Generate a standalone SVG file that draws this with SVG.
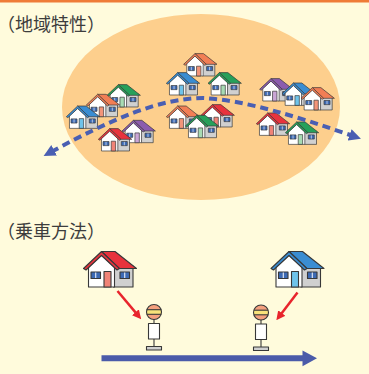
<svg xmlns="http://www.w3.org/2000/svg" width="369" height="374" viewBox="0 0 369 374">
<style>
.bg{fill:#fffbdc}
.topline{fill:#ef7b37}
.area{fill:#fdcf8d}
.title{font-family:"Noto Sans CJK JP","Noto Sans",sans-serif;font-size:18px;fill:#3d3d3d}
.half{font-feature-settings:"halt" 1}
.ol{stroke:#383838;stroke-width:1.1;stroke-linejoin:round}
.roof{fill:var(--roof)}
.door{fill:var(--door)}
.wall{fill:#ffffff}
.side{fill:#d0d0d0}
.win{fill:#3d6ab4}
.mull{stroke:#ffffff;stroke-width:1}
.red{--roof:#e8333d;--door:#f08377}
.blue{--roof:#3a8dd2;--door:#6fc3ea}
.green{--roof:#26a05a;--door:#a7dbb3}
.orange{--roof:#f27e55;--door:#f39479}
.purple{--roof:#8c5cae;--door:#cba6d6}
.dash{fill:none;stroke:#4a5fb2;stroke-width:4;stroke-dasharray:8 5}
.walk{fill:none;stroke:#e8242c;stroke-width:2.5}
.route{fill:#4b5ba9}
.stop-sign{fill:#f4a07e}
.stop-band{fill:#f8e27a}
.stop-board{fill:#ffffff}
.stop-base{fill:#cfcfcf}
</style>
<defs>
  <!-- house icon, 54 x 37 local units; roof and door colours come from custom properties -->
  <g id="house">
    <rect class="side ol" x="30.5" y="15" width="19.5" height="21"/>
    <polygon class="roof ol" points="18.5,0.5 32,0.5 53.5,17.5 36,17.5"/>
    <polygon class="wall ol" points="5.5,36 5.5,16 18.5,4 31.5,16 31.5,36"/>
    <polygon class="roof ol" points="0.5,17.5 18.5,0.5 36.5,17.5 34,19 18.5,4.5 3,19"/>
    <rect class="win ol" x="8" y="21" width="9.5" height="6.5"/>
    <line class="mull" x1="12.75" y1="21.5" x2="12.75" y2="27"/>
    <rect class="win ol" x="37" y="21" width="9.5" height="6.5"/>
    <line class="mull" x1="41.75" y1="21.5" x2="41.75" y2="27"/>
    <rect class="door ol" x="21" y="20.5" width="7" height="15.5"/>
  </g>
  <!-- bus stop pole, centred on x = 0, sign centre at y = 0 -->
  <clipPath id="signClip"><circle cx="0" cy="0" r="7.5"/></clipPath>
  <g id="busstop">
    <line class="ol" x1="0" y1="7" x2="0" y2="11.5"/>
    <line class="ol" x1="0" y1="27" x2="0" y2="34.5"/>
    <circle class="stop-sign" cx="0" cy="0" r="7.5"/>
    <rect class="stop-band" x="-8" y="-2.3" width="16" height="4.6" clip-path="url(#signClip)"/>
    <line class="ol" x1="-7.2" y1="-2.3" x2="7.2" y2="-2.3" stroke-width="0.8"/>
    <line class="ol" x1="-7.2" y1="2.3" x2="7.2" y2="2.3" stroke-width="0.8"/>
    <circle class="ol" cx="0" cy="0" r="7.5" fill="none"/>
    <rect class="stop-board ol" x="-5.5" y="11.5" width="11" height="15.5"/>
    <rect class="stop-base ol" x="-7.5" y="34.5" width="15" height="3.5"/>
  </g>
  <marker id="dashHead" viewBox="0 0 10 10" refX="3" refY="5" markerWidth="12" markerHeight="12" markerUnits="userSpaceOnUse" orient="auto-start-reverse">
    <path d="M0,0 L10,5 L0,10 z" fill="#4a5fb2"/>
  </marker>
  <marker id="walkHead" viewBox="0 0 10 10" refX="0.5" refY="5" markerWidth="9" markerHeight="9" markerUnits="userSpaceOnUse" orient="auto">
    <path d="M0,0 L10,5 L0,10 z" fill="#e8242c"/>
  </marker>
</defs>

<rect class="bg" x="0" y="0" width="369" height="374"/>
<rect class="topline" x="0" y="0" width="369" height="2.5"/>

<!-- regional characteristics -->
<text class="title half" x="6" y="31">（地域特性）</text>
<ellipse class="area" cx="201" cy="107" rx="139" ry="93"/>

<g id="houses-west">
  <g id="hw1"><use href="#house" class="green" transform="translate(106.7,84.3) scale(0.63)"/></g>
  <g id="hw2"><use href="#house" class="orange" transform="translate(86,94) scale(0.63)"/></g>
  <g id="hw3"><use href="#house" class="blue" transform="translate(66,105.7) scale(0.63)"/></g>
  <g id="hw4"><use href="#house" class="purple" transform="translate(121.7,120) scale(0.63)"/></g>
  <g id="hw5"><use href="#house" class="red" transform="translate(98,128.3) scale(0.63)"/></g>
</g>
<g id="houses-centre">
  <g id="hc1"><use href="#house" class="orange" transform="translate(183.3,53.3) scale(0.63)"/></g>
  <g id="hc2"><use href="#house" class="blue" transform="translate(166,72.3) scale(0.63)"/></g>
  <g id="hc3"><use href="#house" class="green" transform="translate(207.7,72.3) scale(0.63)"/></g>
  <g id="hc4"><use href="#house" class="red" transform="translate(200.7,104.3) scale(0.63)"/></g>
  <g id="hc5"><use href="#house" class="orange" transform="translate(166,105.7) scale(0.63)"/></g>
  <g id="hc6"><use href="#house" class="green" transform="translate(185,115) scale(0.63)"/></g>
</g>
<g id="houses-east">
  <g id="he1"><use href="#house" class="purple" transform="translate(259.3,78.3) scale(0.63)"/></g>
  <g id="he2"><use href="#house" class="blue" transform="translate(281.7,82.7) scale(0.63)"/></g>
  <g id="he3"><use href="#house" class="orange" transform="translate(300.7,87.3) scale(0.63)"/></g>
  <g id="he4"><use href="#house" class="red" transform="translate(256,112.7) scale(0.63)"/></g>
  <g id="he5"><use href="#house" class="green" transform="translate(285,121.7) scale(0.63)"/></g>
</g>

<!-- boarding method -->
<text class="title half" x="6" y="238">（乗車方法）</text>

<g id="home-a"><use href="#house" class="red" transform="translate(83,251)"/></g>
<g id="home-b"><use href="#house" class="blue" transform="translate(270.5,251)"/></g>
<g id="stop-a"><use href="#busstop" transform="translate(154,312)"/></g>
<g id="stop-b"><use href="#busstop" transform="translate(261,312.5)"/></g>

<g id="connectors">
  <path id="service-curve" class="dash" d="M51,152 C110,120 160,98 203,98 C245,100 298,117 353,136" marker-start="url(#dashHead)" marker-end="url(#dashHead)"/>
  <line id="walk-a" class="walk" x1="117.5" y1="291" x2="135.7" y2="312.6" marker-end="url(#walkHead)"/>
  <line id="walk-b" class="walk" x1="297.5" y1="292.5" x2="281.5" y2="313.4" marker-end="url(#walkHead)"/>
  <polygon id="route" class="route" points="101.5,355.3 302.5,355.3 302.5,350.5 317,358.3 302.5,366.2 302.5,361.3 101.5,361.3"/>
</g>
</svg>
